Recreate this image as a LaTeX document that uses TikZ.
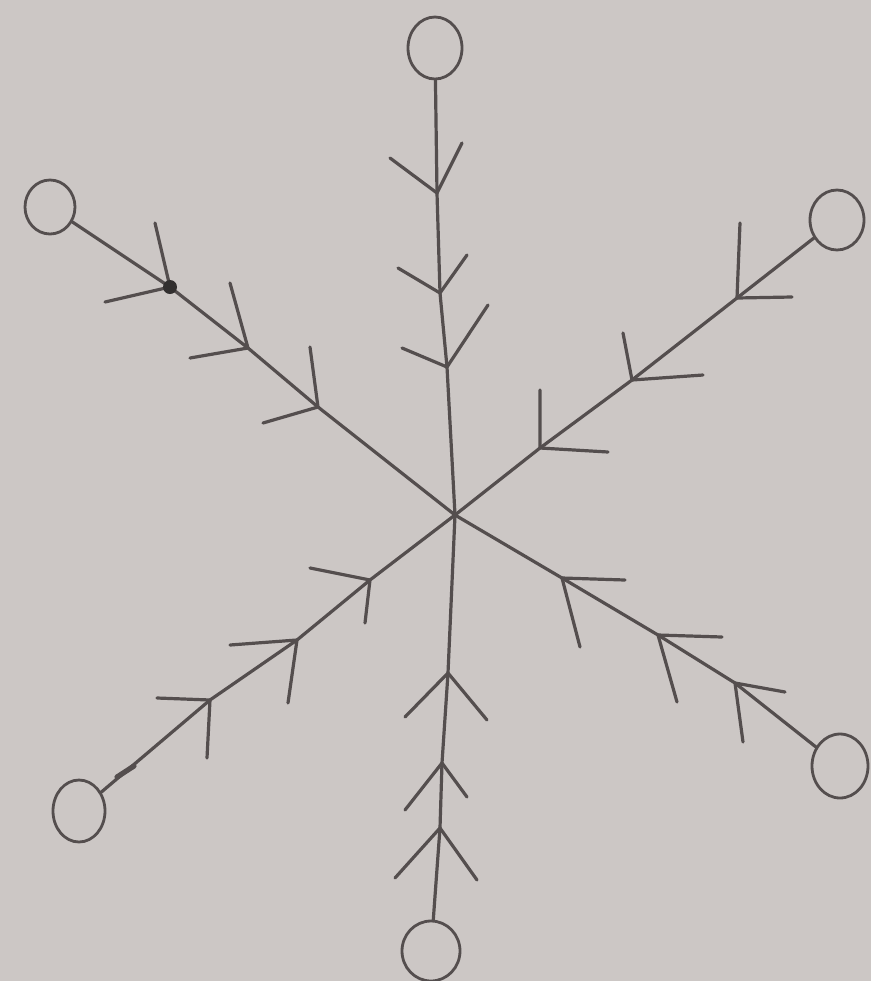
\documentclass[tikz,border=0pt]{standalone}
\usetikzlibrary{shapes.geometric}
\definecolor{paper}{RGB}{204,199,197}
\definecolor{ink}{RGB}{84,78,78}
\begin{document}
\begin{tikzpicture}[x=0.5pt,y=-0.5pt,
  stroke/.style={draw=ink,line width=1.6pt,line cap=round,line join=round},
  tip/.style={ellipse,draw=ink,line width=1.4pt,inner sep=0pt}]
\fill[paper] (0,0) rectangle (871,981);
\useasboundingbox (0,0) rectangle (871,981);
\coordinate (c) at (455,515);
% end circles
\node[tip,minimum width=27pt,minimum height=31pt] (tT)  at (435,48)  {};
\node[tip,minimum width=25pt,minimum height=27pt] (tUL) at (50,207)  {};
\node[tip,minimum width=27pt,minimum height=30pt] (tUR) at (837,220) {};
\node[tip,minimum width=28pt,minimum height=32pt] (tLR) at (840,766) {};
\node[tip,minimum width=26pt,minimum height=31pt] (tLL) at (79,811)  {};
\node[tip,minimum width=29pt,minimum height=30pt] (tB)  at (431,951) {};
% top arm
\coordinate (a1) at (437,193); \coordinate (a1l) at (390,158); \coordinate (a1r) at (462,143);
\coordinate (a2) at (440,293); \coordinate (a2l) at (398,268); \coordinate (a2r) at (467,255);
\coordinate (a3) at (447,367); \coordinate (a3l) at (402,348); \coordinate (a3r) at (488,305);
\draw[stroke] (c) -- (a3) -- (a2) -- (a1) -- (tT);
\draw[stroke] (a1l) -- (a1) -- (a1r);
\draw[stroke] (a2l) -- (a2) -- (a2r);
\draw[stroke] (a3l) -- (a3) -- (a3r);
% upper-left arm
\coordinate (b1) at (170,287); \coordinate (b1u) at (155,223); \coordinate (b1l) at (105,302);
\coordinate (b2) at (248,348); \coordinate (b2u) at (230,283); \coordinate (b2l) at (190,358);
\coordinate (b3) at (318,407); \coordinate (b3u) at (310,347); \coordinate (b3l) at (263,423);
\draw[stroke] (c) -- (b3) -- (b2) -- (b1) -- (tUL);
\draw[stroke] (b1u) -- (b1) -- (b1l);
\draw[stroke] (b2u) -- (b2) -- (b2l);
\draw[stroke] (b3u) -- (b3) -- (b3l);
\fill[ink!60!black] (b1) circle (7);
% upper-right arm
\coordinate (d1) at (737,298); \coordinate (d1u) at (740,223); \coordinate (d1r) at (792,297);
\coordinate (d2) at (632,380); \coordinate (d2u) at (623,333); \coordinate (d2r) at (703,375);
\coordinate (d3) at (540,448); \coordinate (d3u) at (540,390); \coordinate (d3r) at (608,452);
\draw[stroke] (c) -- (d3) -- (d2) -- (d1) -- (tUR);
\draw[stroke] (d1u) -- (d1) -- (d1r);
\draw[stroke] (d2u) -- (d2) -- (d2r);
\draw[stroke] (d3u) -- (d3) -- (d3r);
% lower-right arm
\coordinate (e1) at (562,578); \coordinate (e1r) at (625,580); \coordinate (e1d) at (580,647);
\coordinate (e2) at (658,635); \coordinate (e2r) at (722,637); \coordinate (e2d) at (677,702);
\coordinate (e3) at (735,683); \coordinate (e3r) at (785,692); \coordinate (e3d) at (743,742);
\draw[stroke] (c) -- (e1) -- (e2) -- (e3) -- (tLR);
\draw[stroke] (e1r) -- (e1) -- (e1d);
\draw[stroke] (e2r) -- (e2) -- (e2d);
\draw[stroke] (e3r) -- (e3) -- (e3d);
% lower-left arm
\coordinate (f1) at (370,580); \coordinate (f1l) at (310,568); \coordinate (f1d) at (365,623);
\coordinate (f2) at (297,640); \coordinate (f2l) at (230,645); \coordinate (f2d) at (288,703);
\coordinate (f3) at (210,700); \coordinate (f3l) at (157,698); \coordinate (f3d) at (207,758);
\draw[stroke] (c) -- (f1) -- (f2) -- (f3) -- (tLL);
\draw[stroke] (f1l) -- (f1) -- (f1d);
\draw[stroke] (f2l) -- (f2) -- (f2d);
\draw[stroke] (f3l) -- (f3) -- (f3d);
\coordinate (m1) at (117,777); \coordinate (m2) at (134,766);
\draw[stroke,line width=2.6pt] (m1) -- (m2);
% bottom arm
\coordinate (g1) at (448,673); \coordinate (g1l) at (405,717); \coordinate (g1r) at (487,720);
\coordinate (g2) at (442,763); \coordinate (g2l) at (405,810); \coordinate (g2r) at (467,797);
\coordinate (g3) at (440,828); \coordinate (g3l) at (395,878); \coordinate (g3r) at (477,880);
\draw[stroke] (c) -- (g1) -- (g2) -- (g3) -- (tB);
\draw[stroke] (g1l) -- (g1) -- (g1r);
\draw[stroke] (g2l) -- (g2) -- (g2r);
\draw[stroke] (g3l) -- (g3) -- (g3r);
\end{tikzpicture}
\end{document}
